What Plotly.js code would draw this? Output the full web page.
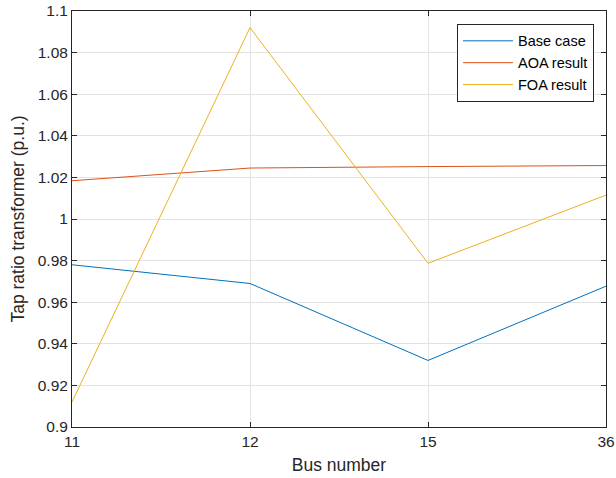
<!DOCTYPE html>
<html>
<head>
<meta charset="utf-8">
<script src="https://cdn.plot.ly/plotly-3.0.1.min.js"></script>
<style>html,body{margin:0;padding:0;background:#fff;}#chart{width:616px;height:478px;}</style>
</head>
<body>
<div id="chart"></div>
<script>
const busNumbers = ['11', '12', '15', '36'];
const baseCase = [0.978, 0.969, 0.932, 0.9677];
const aoaResult = [1.0184, 1.0245, 1.0252, 1.0257];
const foaResult = [0.912, 1.092, 0.9787, 1.0115];
const seriesNames = ['Base case', 'AOA result', 'FOA result'];
const yTickVals = [0.9, 0.92, 0.94, 0.96, 0.98, 1, 1.02, 1.04, 1.06, 1.08, 1.1];
const yTickText = ['0.9', '0.92', '0.94', '0.96', '0.98', '1', '1.02', '1.04', '1.06', '1.08', '1.1'];

const colors = ['#0072BD', '#D95319', '#EDB120'];
const data = [baseCase, aoaResult, foaResult].map((ys, i) => ({
  x: busNumbers, y: ys, type: 'scatter', mode: 'lines', name: seriesNames[i],
  line: {color: colors[i], width: 1}
}));

const FONT = 'Liberation Sans, Arial, sans-serif';
const axisCommon = {
  showline: true, linecolor: '#262626', linewidth: 1, mirror: 'ticks',
  ticks: 'inside', ticklen: 5, tickcolor: '#262626', tickwidth: 1,
  showgrid: true, gridcolor: '#e3e3e3', gridwidth: 1, zeroline: false,
  tickfont: {family: FONT, size: 15.5, color: '#262626'}
};

const layout = {
  width: 616, height: 478,
  margin: {l: 72, r: 10, t: 11, b: 51},
  paper_bgcolor: '#fff', plot_bgcolor: '#fff',
  showlegend: true,
  legend: {
    x: 0.721, y: 0.969, xanchor: 'left', yanchor: 'top',
    bgcolor: '#fff', bordercolor: '#262626', borderwidth: 1,
    font: {family: FONT, size: 14.5, color: '#000'},
    tracegroupgap: 0, itemwidth: 50
  },
  xaxis: Object.assign({}, axisCommon, {
    type: 'category', range: [0, 3],
    title: {text: 'Bus number', font: {family: FONT, size: 17.5, color: '#262626'}, standoff: 10}
  }),
  yaxis: Object.assign({}, axisCommon, {
    range: [0.9, 1.1], tickvals: yTickVals, ticktext: yTickText,
    title: {text: 'Tap ratio transformer (p.u.)', font: {family: FONT, size: 17.5, color: '#262626'}, standoff: 8}
  })
};

Plotly.newPlot('chart', data, layout, {displayModeBar: false, staticPlot: true});
</script>
</body>
</html>
